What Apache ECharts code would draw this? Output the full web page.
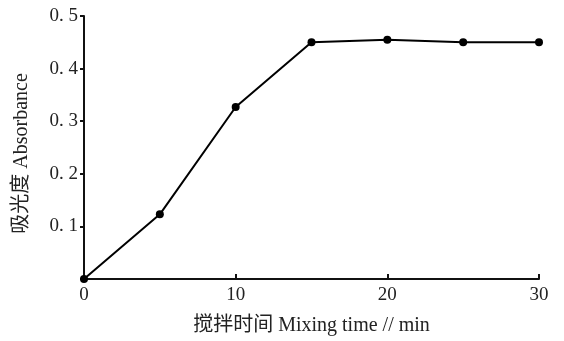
<!DOCTYPE html>
<html><head><meta charset="utf-8">
<script src="https://cdn.jsdelivr.net/npm/echarts@6/dist/echarts.min.js"></script>
<style>html,body{margin:0;padding:0;background:#fff}#c{width:564px;height:341px}</style>
</head><body><div id="c"></div>
<script>
var times = [0, 5, 10, 15, 20, 25, 30];
var absorbance = [0, 0.123, 0.327, 0.450, 0.455, 0.450, 0.450];
var xName = '搅拌时间 Mixing time // min';
var yName = '吸光度 Absorbance';
var FONT = '"Liberation Serif", "Noto Sans CJK SC", serif';
var chart = echarts.init(document.getElementById('c'));
chart.setOption({
  animation: false,
  backgroundColor: '#fff',
  grid: {left: 84, right: 25, top: 16, bottom: 59},
  xAxis: {
    type: 'value', min: 0, max: 30, interval: 10,
    name: xName, nameLocation: 'middle', nameGap: 37,
    nameTextStyle: {fontFamily: FONT, fontSize: 20, color: '#222'},
    axisLine: {lineStyle: {color: '#111', width: 2}},
    axisTick: {inside: true, length: 5, lineStyle: {color: '#111', width: 2}},
    axisLabel: {fontFamily: FONT, fontSize: 19, color: '#222', margin: 7},
    splitLine: {show: false}
  },
  yAxis: {
    type: 'value', min: 0, max: 0.5, interval: 0.1,
    name: yName, nameLocation: 'middle', nameGap: 52,
    nameTextStyle: {fontFamily: FONT, fontSize: 20, color: '#222', padding: [0, 12, 0, 0]},
    axisLine: {lineStyle: {color: '#111', width: 2}},
    axisTick: {inside: false, length: 4, lineStyle: {color: '#111', width: 2}},
    axisLabel: {fontFamily: FONT, fontSize: 19, color: '#222', margin: 6,
      formatter: function (v) { return v === 0 ? '' : v.toFixed(1).replace('.', '. '); }},
    splitLine: {show: false}
  },
  series: [{
    type: 'line',
    data: times.map(function (t, i) { return [t, absorbance[i]]; }),
    symbol: 'circle', symbolSize: 8,
    itemStyle: {color: '#000'},
    lineStyle: {color: '#000', width: 2}
  }]
});
</script></body></html>
